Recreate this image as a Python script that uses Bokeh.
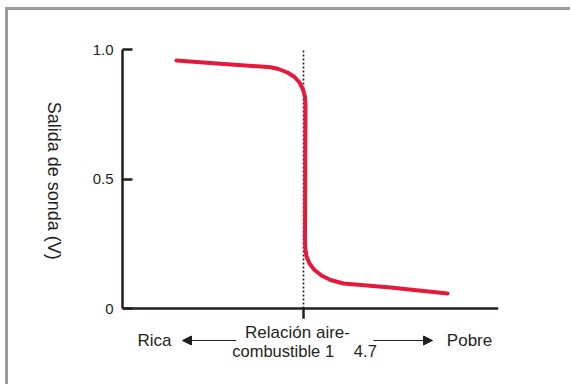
import math
from bokeh.plotting import figure
from bokeh.layouts import row
from bokeh.models import Range1d, FixedTicker, Label, Arrow, NormalHead, LinearAxis
from bokeh.embed import file_html
from bokeh.resources import INLINE

# ---- data ----
air_fuel = [12.583, 13.317, 14.15, 14.283, 14.433, 14.55, 14.633, 14.692, 14.725,
            14.733, 14.725, 14.73, 14.75, 14.8, 14.883, 15.0, 15.15, 15.367,
            16.15, 17.1]
sensor_v = [0.9575, 0.9448, 0.9317, 0.9247, 0.9112, 0.8938, 0.8726, 0.8456, 0.8185,
            0.7876, 0.2625, 0.2317, 0.2008, 0.1737, 0.1486, 0.1274, 0.11, 0.0965,
            0.0811, 0.0579]
stoich = 14.7
y_ticks = [0, 0.5, 1.0]
y_tick_labels = ["0", "0.5", "1.0"]
y_title = "Salida de sonda (V)"
left_text = "Rica"
right_text = "Pobre"
mid_text_1 = "Relación aire-"
mid_text_2 = "combustible 1\u2003\u20094.7"

INK = "#231f20"
RED = "#e5193c"
FONT = "Liberation Sans"
H = 374

# ---- narrow panel holding the y title (reads top to bottom) ----
tf = figure(width=80, height=H, output_backend="svg", toolbar_location=None,
            x_range=Range1d(0, 80), y_range=Range1d(0, H),
            x_axis_type=None, y_axis_type=None, min_border=0)
tf.outline_line_color = None
tf.grid.visible = False
tf.add_layout(Label(x=45, y=H - 152, text=y_title, angle=-math.pi / 2,
                    text_align="center", text_baseline="middle", text_font=FONT,
                    text_font_size="18px", text_color=INK))

# ---- main chart ----
x_lo, x_hi = 11.683, 17.95
p = figure(width=482, height=H, output_backend="svg", toolbar_location=None,
           x_range=Range1d(x_lo, x_hi), y_range=Range1d(-0.2471, 1.0),
           x_axis_type=None, y_axis_type=None,
           min_border_left=34, min_border_right=72, min_border_top=39,
           min_border_bottom=12)
p.outline_line_color = None
p.grid.visible = False

yax = LinearAxis(ticker=FixedTicker(ticks=y_ticks), bounds=(0, 1),
                 major_label_overrides={t: s for t, s in zip(y_ticks, y_tick_labels)},
                 major_tick_in=10, major_tick_out=0, minor_tick_line_color=None,
                 axis_line_width=2.5, axis_line_color=INK,
                 major_tick_line_width=2.5, major_tick_line_color=INK,
                 major_label_text_font=FONT, major_label_text_font_size="15px",
                 major_label_text_color=INK, major_label_standoff=9)
p.add_layout(yax, "left")

# x axis line, stoichiometric tick and dotted marker
p.segment(x0=[x_lo], y0=[0], x1=[x_hi], y1=[0], line_color=INK, line_width=2.5)
p.segment(x0=[stoich], y0=[0.004], x1=[stoich], y1=[-0.04], line_color=INK, line_width=2.5)
p.segment(x0=[stoich], y0=[0], x1=[stoich], y1=[1.0], line_color=INK,
          line_width=1.6, line_dash="2 2")

p.line(air_fuel, sensor_v, line_color=RED, line_width=4,
       line_join="round", line_cap="round")

y_row = -0.1236
common = dict(text_align="center", text_baseline="middle", text_font=FONT, text_color=INK)
p.add_layout(Label(x=12.217, y=y_row, text=left_text, text_font_size="17px", **common))
p.add_layout(Label(x=17.467, y=y_row, text=right_text, text_font_size="17px", **common))
p.add_layout(Label(x=14.6, y=-0.093, text=mid_text_1, text_font_size="17px", **common))
p.add_layout(Label(x=14.717, y=-0.165, text=mid_text_2, text_font_size="16.5px", **common))

p.add_layout(Arrow(x_start=13.58, y_start=y_row, x_end=12.683, y_end=y_row,
                   line_color=INK, line_width=1,
                   end=NormalHead(size=9, fill_color=INK, line_color=INK)))
p.add_layout(Arrow(x_start=15.867, y_start=y_row, x_end=16.85, y_end=y_row,
                   line_color=INK, line_width=1,
                   end=NormalHead(size=9, fill_color=INK, line_color=INK)))

layout = row(tf, p, styles={"border-top": "3px solid #9b9b9b",
                            "border-left": "3px solid #9b9b9b",
                            "margin-left": "5px", "margin-top": "7px"})
open("out.html", "w").write(file_html(layout, INLINE))
